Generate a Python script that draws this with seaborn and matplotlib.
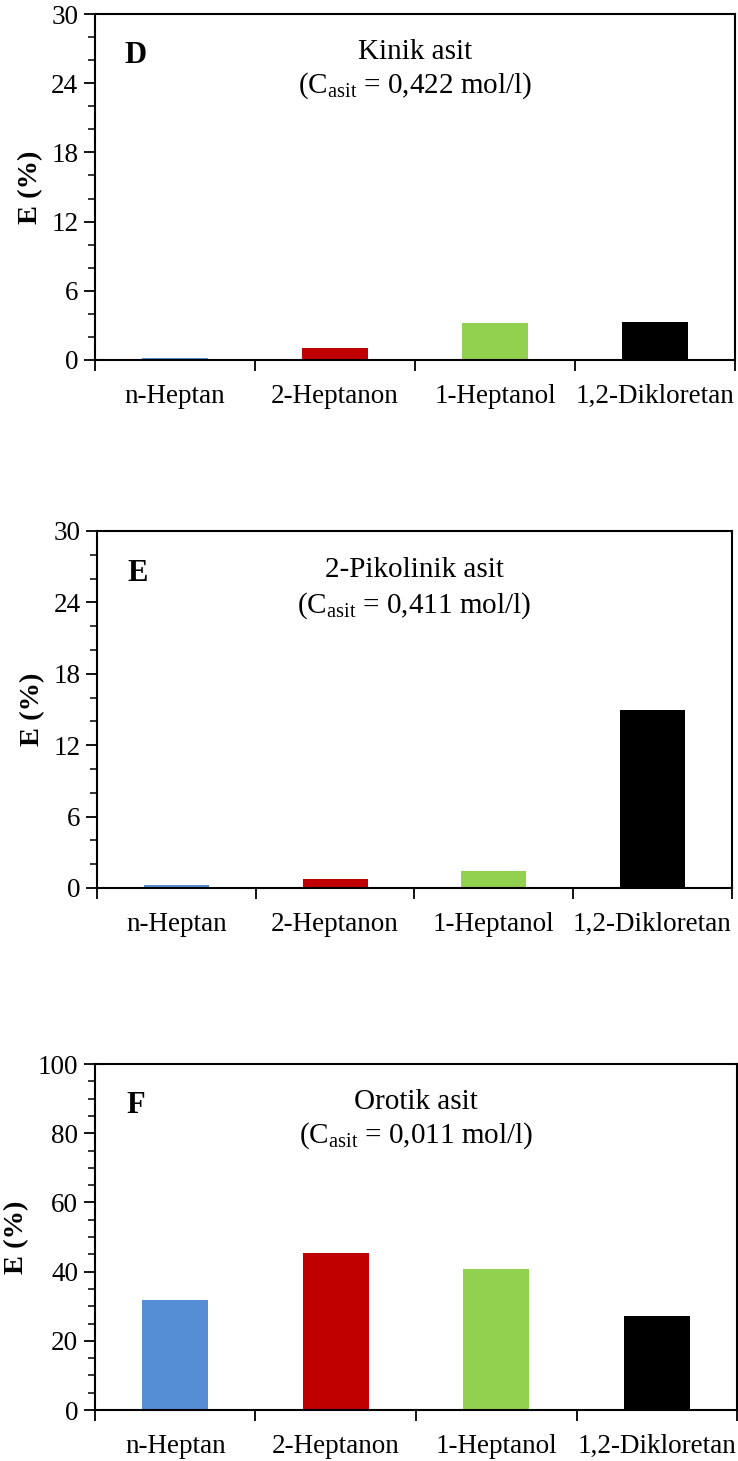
import matplotlib
matplotlib.use("Agg")
import matplotlib.pyplot as plt
import seaborn as sns
import pandas as pd
from matplotlib.ticker import MultipleLocator, FixedLocator

sns.set_theme(style="white")
plt.rcParams['font.family'] = ['Liberation Serif', 'DejaVu Serif']
plt.rcParams['mathtext.fontset'] = 'custom'
plt.rcParams['mathtext.rm'] = 'Liberation Serif'
plt.rcParams['mathtext.it'] = 'Liberation Serif:italic'
plt.rcParams['mathtext.bf'] = 'Liberation Serif:bold'
plt.rcParams['text.color'] = 'black'
plt.rcParams['axes.labelcolor'] = 'black'
plt.rcParams['xtick.color'] = 'black'
plt.rcParams['ytick.color'] = 'black'

solvents = ["n-Heptan", "2-Heptanon", "1-Heptanol", "1,2-Dikloretan"]
colors = ["#558ED5", "#C00000", "#92D050", "#000000"]

kinik = [0.2, 1.07, 3.17, 3.26]
pikolinik = [0.23, 0.74, 1.41, 14.95]
orotik = [31.9, 45.3, 40.9, 27.2]

panels = [
    dict(vals=kinik, letter="D", name="Kinik asit", conc="0,422", ymax=30, major=6, minor=2,
         rect=[0.1287, 0.7536, 0.8673, 0.2368]),
    dict(vals=pikolinik, letter="E", name="2-Pikolinik asit", conc="0,411", ymax=30, major=6, minor=2,
         rect=[0.1315, 0.3922, 0.8600, 0.2444]),
    dict(vals=orotik, letter="F", name="Orotik asit", conc="0,011", ymax=100, major=20, minor=5,
         rect=[0.1287, 0.0349, 0.8700, 0.2368]),
]

fig = plt.figure(figsize=(7.38, 14.61), dpi=100)
fs = 19.5

for p in panels:
    ax = fig.add_axes(p["rect"])
    df = pd.DataFrame({"Solvent": solvents, "E": p["vals"]})
    sns.barplot(data=df, x="Solvent", y="E", hue="Solvent", palette=colors,
                legend=False, width=0.41, saturation=1, ax=ax, edgecolor="none")
    ax.set_xlim(-0.5, 3.5)
    ax.set_ylim(0, p["ymax"])
    ax.yaxis.set_major_locator(MultipleLocator(p["major"]))
    ax.yaxis.set_minor_locator(MultipleLocator(p["minor"]))
    ax.xaxis.set_minor_locator(FixedLocator([-0.5, 0.5, 1.5, 2.5, 3.5]))
    ax.tick_params(axis="y", which="major", direction="out", length=8, width=1.3,
                   labelsize=fs, left=True, pad=4, colors="black")
    ax.tick_params(axis="y", which="minor", direction="out", length=5, width=1.1, left=True)
    ax.tick_params(axis="x", which="major", length=0, labelsize=fs, pad=17, colors="black")
    ax.tick_params(axis="x", which="minor", direction="out", length=8, width=1.3, bottom=True)
    for s in ax.spines.values():
        s.set_visible(True)
        s.set_color("black")
        s.set_linewidth(1.5)
    ax.set_xlabel("")
    ax.set_ylabel("E (%)", fontsize=20.5, fontweight="bold", labelpad=6)
    ax.text(0.064, 0.88, p["letter"], transform=ax.transAxes, fontsize=22,
            fontweight="bold", ha="center", va="center")
    ax.text(0.50, 0.89, p["name"], transform=ax.transAxes, fontsize=21,
            ha="center", va="center")
    ax.text(0.50, 0.792, "(C$_{\\mathrm{asit}}$ = " + p["conc"] + " mol/l)",
            transform=ax.transAxes, fontsize=21, ha="center", va="center")

fig.savefig("out.png", dpi=100)
